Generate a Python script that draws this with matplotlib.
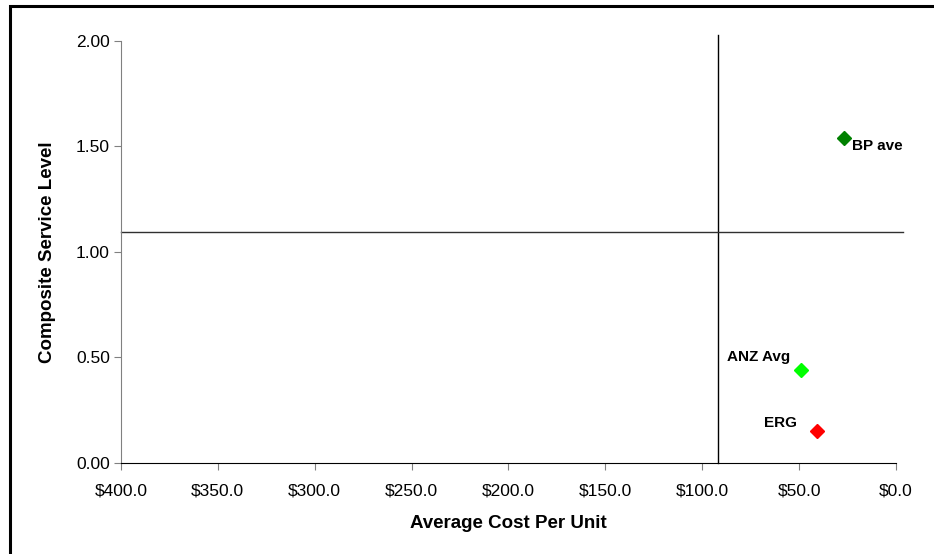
import matplotlib
matplotlib.use('Agg')
import matplotlib.pyplot as plt
from matplotlib.patches import Rectangle
from matplotlib.ticker import FuncFormatter

plt.rcParams['font.family'] = ['Liberation Sans', 'DejaVu Sans']

# data
names = ['BP ave', 'ANZ Avg', 'ERG']
cost = [26.8, 49.0, 40.8]
service = [1.54, 0.44, 0.15]
colors = ['#008000', '#00ff00', '#ff0000']

# quadrant divider lines
cost_cut = 92.0
service_cut = 1.095

xticks = [400, 350, 300, 250, 200, 150, 100, 50, 0]
yticks = [0.0, 0.5, 1.0, 1.5, 2.0]

fig = plt.figure(figsize=(9.34, 5.54), dpi=100)
ax = fig.add_axes([0.1295, 0.1643, 0.8298, 0.7617])

# outer frame (only top/left visible in the reference)
fig.patches.append(Rectangle((9.5 / 934, -0.1), 1.2, 1.1 - 6.5 / 554,
                             transform=fig.transFigure, fill=False,
                             edgecolor='black', linewidth=2.2))

ax.plot([cost_cut, cost_cut], [0, 2.03], color='black', lw=1.0, clip_on=False, zorder=2)
ax.plot([400, -3.5], [service_cut, service_cut], color='#303030', lw=1.0, clip_on=False, zorder=2)

for n, x, y, c in zip(names, cost, service, colors):
    ax.plot(x, y, marker='D', ms=7, color=c, mec=c, ls='none', zorder=3, clip_on=False)

# labels placed around the markers
ax.annotate(names[0], (cost[0], service[0]), xytext=(8, -8), textcoords='offset pixels',
            ha='left', va='center', fontsize=11, fontweight='bold')
ax.annotate(names[1], (cost[1], service[1]), xytext=(-11, 13), textcoords='offset pixels',
            ha='right', va='center', fontsize=11, fontweight='bold')
ax.annotate(names[2], (cost[2], service[2]), xytext=(-20, 8), textcoords='offset pixels',
            ha='right', va='center', fontsize=11, fontweight='bold')

ax.set_xlim(400, 0)
ax.set_ylim(0, 2)
ax.set_xticks(xticks)
ax.set_yticks(yticks)
ax.xaxis.set_major_formatter(FuncFormatter(lambda v, p: '${:.1f}'.format(v)))
ax.yaxis.set_major_formatter(FuncFormatter(lambda v, p: '{:.2f}'.format(v)))

for s in ['top', 'right']:
    ax.spines[s].set_visible(False)
ax.spines['left'].set_color('#808080')
ax.spines['bottom'].set_color('black')
ax.tick_params(axis='both', direction='out', length=5, color='#808080', labelsize=12.5)
ax.tick_params(axis='x', pad=10)
ax.tick_params(axis='y', pad=3)

ax.set_xlabel('Average Cost Per Unit', fontsize=13.5, fontweight='bold', labelpad=12)
ax.set_ylabel('Composite Service Level', fontsize=13.5, fontweight='bold', labelpad=14)

fig.savefig('out.png', dpi=100)
